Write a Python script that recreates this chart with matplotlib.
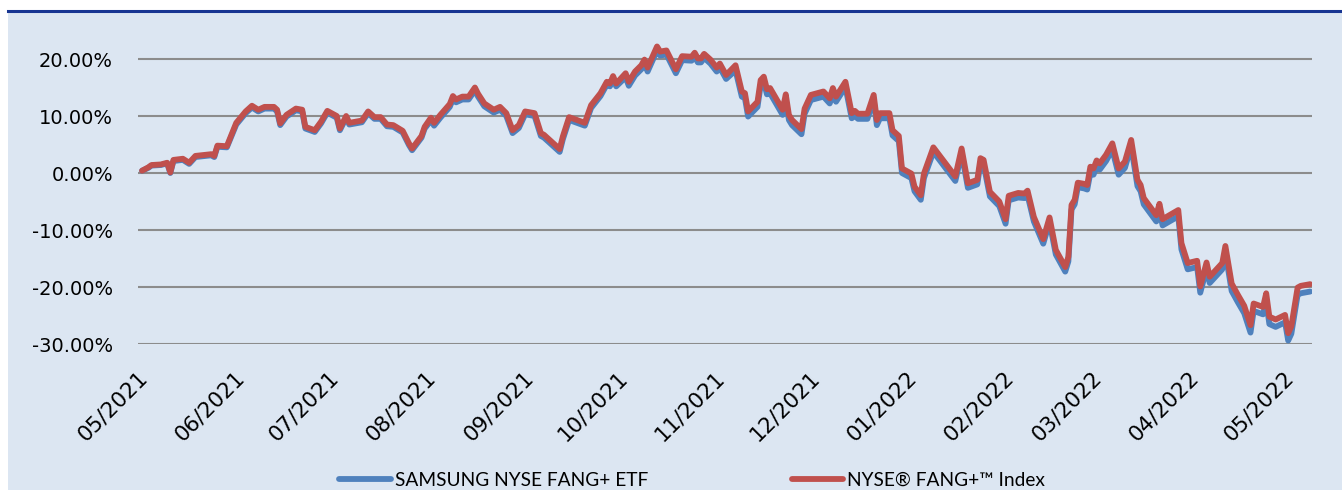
import matplotlib
matplotlib.use("Agg")
import matplotlib.pyplot as plt
import matplotlib.dates as mdates
import matplotlib.transforms as mtransforms
from matplotlib.lines import Line2D
from matplotlib.patches import Rectangle
from matplotlib.ticker import FuncFormatter
import pandas as pd

# cumulative return (%)
dates = [
    "2021-05-01", "2021-05-03", "2021-05-04", "2021-05-07", "2021-05-09", "2021-05-10", "2021-05-11",
    "2021-05-14", "2021-05-16", "2021-05-18", "2021-05-23", "2021-05-24", "2021-05-25", "2021-05-28",
    "2021-05-31", "2021-06-03", "2021-06-05", "2021-06-07", "2021-06-09", "2021-06-12", "2021-06-13",
    "2021-06-14", "2021-06-16", "2021-06-19", "2021-06-21", "2021-06-22", "2021-06-25", "2021-06-27",
    "2021-06-29", "2021-07-02", "2021-07-03", "2021-07-05", "2021-07-06", "2021-07-10", "2021-07-12",
    "2021-07-14", "2021-07-16", "2021-07-18", "2021-07-20", "2021-07-23", "2021-07-25", "2021-07-26",
    "2021-07-29", "2021-07-30", "2021-08-01", "2021-08-02", "2021-08-04", "2021-08-07", "2021-08-08",
    "2021-08-09", "2021-08-11", "2021-08-13", "2021-08-15", "2021-08-16", "2021-08-18", "2021-08-21",
    "2021-08-23", "2021-08-25", "2021-08-27", "2021-08-29", "2021-08-31", "2021-09-03", "2021-09-05",
    "2021-09-06", "2021-09-09", "2021-09-11", "2021-09-12", "2021-09-14", "2021-09-16", "2021-09-19",
    "2021-09-21", "2021-09-24", "2021-09-26", "2021-09-27", "2021-09-28", "2021-09-29", "2021-10-02",
    "2021-10-03", "2021-10-05", "2021-10-07", "2021-10-08", "2021-10-09", "2021-10-12", "2021-10-13",
    "2021-10-15", "2021-10-18", "2021-10-20", "2021-10-23", "2021-10-24", "2021-10-25", "2021-10-26",
    "2021-10-27", "2021-10-29", "2021-10-31", "2021-11-01", "2021-11-03", "2021-11-06", "2021-11-08",
    "2021-11-09", "2021-11-10", "2021-11-13", "2021-11-14", "2021-11-15", "2021-11-16", "2021-11-17",
    "2021-11-21", "2021-11-22", "2021-11-23", "2021-11-24", "2021-11-27", "2021-11-28", "2021-11-30",
    "2021-12-04", "2021-12-06", "2021-12-07", "2021-12-08", "2021-12-11", "2021-12-13", "2021-12-14",
    "2021-12-15", "2021-12-18", "2021-12-20", "2021-12-21", "2021-12-22", "2021-12-25", "2021-12-26",
    "2021-12-28", "2021-12-29", "2022-01-01", "2022-01-02", "2022-01-04", "2022-01-05", "2022-01-08",
    "2022-01-15", "2022-01-17", "2022-01-19", "2022-01-22", "2022-01-23", "2022-01-24", "2022-01-26",
    "2022-01-29", "2022-01-31", "2022-02-01", "2022-02-04", "2022-02-06", "2022-02-07", "2022-02-09",
    "2022-02-12", "2022-02-14", "2022-02-16", "2022-02-19", "2022-02-20", "2022-02-21", "2022-02-22",
    "2022-02-23", "2022-02-25", "2022-02-26", "2022-02-27", "2022-02-28", "2022-03-01", "2022-03-02",
    "2022-03-04", "2022-03-06", "2022-03-08", "2022-03-10", "2022-03-12", "2022-03-14", "2022-03-15",
    "2022-03-16", "2022-03-20", "2022-03-21", "2022-03-22", "2022-03-27", "2022-03-28", "2022-03-30",
    "2022-04-02", "2022-04-03", "2022-04-05", "2022-04-06", "2022-04-10", "2022-04-11", "2022-04-13",
    "2022-04-15", "2022-04-17", "2022-04-19", "2022-04-20", "2022-04-23", "2022-04-24", "2022-04-25",
    "2022-04-27", "2022-04-30", "2022-05-01", "2022-05-02", "2022-05-04", "2022-05-05", "2022-05-08",
]

index_ret = [
    0.4, 1.0, 1.4, 1.5, 1.8, 0.1, 2.3, 2.5, 1.8, 3.0, 3.3, 3.0, 4.8, 4.7, 8.8,
    10.8, 11.8, 11.1, 11.6, 11.6, 11.1, 8.7, 10.2, 11.3, 11.1, 8.1, 7.5, 9.0, 10.9, 10.0,
    7.8, 10.0, 8.8, 9.2, 10.8, 9.8, 9.8, 8.5, 8.4, 7.4, 5.2, 4.3, 6.5, 8.1,
    9.7, 8.8, 10.2, 12.1, 13.5, 12.9, 13.4, 13.4, 15.0, 13.9, 12.2, 11.1, 11.6, 10.5, 7.5, 8.4,
    10.8, 10.5, 7.0, 6.7, 5.2, 4.2, 6.4, 9.8, 9.4, 8.8, 11.9, 14.0, 16.0, 15.7, 17.0, 15.7,
    17.5, 16.0, 17.8, 18.9, 19.9, 18.5, 22.2, 21.3, 21.5, 18.2, 20.5, 20.4, 21.1, 20.1, 20.1,
    20.9, 19.9, 18.5, 19.2, 17.2,
    18.9, 14.3, 14.0, 10.8, 12.5, 16.3, 16.9, 14.7, 14.9, 11.1, 13.8, 10.2, 9.3, 7.7, 11.3,
    13.7, 14.3, 13.1, 14.9, 13.4, 16.0, 10.5, 10.9, 10.4, 10.4, 13.7, 9.3, 10.5, 10.5, 7.5, 6.5,
    0.8, -0.1, -2.4, -3.9, -0.1, 4.5, -0.6, 4.3, -1.8, -1.2, 2.6, 2.3, -3.3, -5.0, -8.1,
    -4.0, -3.5, -3.6, -3.1, -7.7, -11.6, -7.8, -13.5, -16.5, -14.7, -5.6, -4.7, -1.7, -1.9, -2.1,
    1.1, 0.8, 2.2, 1.7, 3.2, 5.2, 0.8, 2.0, 5.8, -1.2, -2.1, -4.4, -7.4, -5.4, -8.1,
    -6.5, -12.3, -15.8, -15.4, -19.9, -15.7, -18.2, -15.8, -12.8,
    -19.4, -21.4, -23.3, -26.7, -22.9, -23.5, -21.1, -25.2, -25.7, -24.9, -28.1, -26.9, -20.1,
    -19.8, -19.5,
]

etf_ret = [
    0.4, 0.9, 1.3, 1.4, 1.7, 0.0, 2.1, 2.3, 1.6, 2.8, 3.1, 2.8, 4.6, 4.5, 8.5,
    10.5, 11.5, 10.8, 11.3, 11.3, 10.8, 8.4, 9.9, 11.0, 10.8, 7.8, 7.2, 8.7, 10.6, 9.7,
    7.5, 9.7, 8.5, 8.9, 10.5, 9.5, 9.5, 8.2, 8.1, 7.1, 4.9, 4.0, 6.2, 7.8,
    9.2, 8.3, 9.7, 11.6, 13.0, 12.4, 12.9, 12.9, 14.5, 13.4, 11.7, 10.6, 11.1, 10.0, 7.0, 7.9,
    10.3, 10.0, 6.5, 6.2, 4.7, 3.7, 5.9, 9.3, 8.9, 8.3, 11.4, 13.5, 15.5, 15.2, 16.5, 15.2,
    16.8, 15.3, 17.1, 18.2, 19.2, 17.8, 21.5, 20.6, 20.8, 17.5, 19.8, 19.7, 20.4, 19.4, 19.4,
    20.2, 19.2, 17.8, 18.5, 16.5,
    18.0, 13.4, 13.1, 9.9, 11.6, 15.4, 16.0, 13.8, 14.0, 10.2, 12.9, 9.3, 8.4, 6.8, 10.4,
    12.8, 13.4, 12.2, 14.0, 12.5, 15.1, 9.6, 10.0, 9.5, 9.5, 12.8, 8.4, 9.6, 9.6, 6.6, 5.6,
    0.0, -0.9, -3.2, -4.7, -0.9, 3.7, -1.4, 3.5, -2.6, -2.0, 1.8, 1.5, -4.1, -5.8, -8.9,
    -4.8, -4.3, -4.4, -3.9, -8.5, -12.4, -8.6, -14.3, -17.3, -15.5, -6.4, -5.5, -2.5, -2.7, -2.9,
    0.0, -0.3, 1.1, 0.6, 2.1, 4.1, -0.3, 0.9, 4.7, -2.3, -3.2, -5.5, -8.5, -6.5, -9.2,
    -7.6, -13.4, -16.9, -16.5, -21.0, -16.8, -19.3, -16.9, -13.9,
    -20.7, -22.7, -24.6, -28.0, -24.2, -24.8, -22.4, -26.5, -27.0, -26.2, -29.4, -28.2, -21.4,
    -21.1, -20.8,
]

series_names = ["SAMSUNG NYSE FANG+ ETF", "NYSE\u00ae FANG+\u2122 Index"]
y_ticks = [-30, -20, -10, 0, 10, 20]

BG = "#DCE6F2"
BLUE = "#4F81BD"
RED = "#C0504D"
W, H = 1342, 490

plt.rcParams["font.family"] = ["DejaVu Sans"]

fig = plt.figure(figsize=(W / 100, H / 100), dpi=100)
fig.patch.set_facecolor("white")
fig.patches.append(Rectangle((8 / W, 0), 1 - 8 / W, 1 - 12 / H, transform=fig.transFigure,
                             facecolor=BG, edgecolor="none", zorder=-10))
fig.lines.append(Line2D([8 / W, 1], [1 - 11.5 / H, 1 - 11.5 / H], transform=fig.transFigure,
                        color="#173592", lw=2.2, zorder=-5))

ax = fig.add_axes([138 / W, 1 - 344 / H, 1174 / W, (344 - 30.5) / H])
ax.set_facecolor("none")

x = pd.to_datetime(dates)
ax.plot(x, etf_ret, color=BLUE, lw=4.2, solid_capstyle="round", solid_joinstyle="round",
        label=series_names[0], zorder=3)
ax.plot(x, index_ret, color=RED, lw=4.2, solid_capstyle="round", solid_joinstyle="round",
        label=series_names[1], zorder=4)

ax.set_ylim(-30, 25)
ax.set_yticks(y_ticks)
ax.yaxis.set_major_formatter(FuncFormatter(lambda v, p: f"{v:.2f}%"))
ax.set_xlim(pd.Timestamp("2021-04-29 17:00"), pd.Timestamp("2022-05-08 14:00"))
ax.xaxis.set_major_locator(mdates.MonthLocator())
ax.xaxis.set_major_formatter(mdates.DateFormatter("%m/%Y"))

ax.grid(axis="y", color="#8C8C8C", lw=1.5)
ax.set_axisbelow(True)
for s in ax.spines.values():
    s.set_visible(False)
ax.tick_params(axis="y", length=0, labelsize=14, pad=18, colors="black")
ax.tick_params(axis="x", length=0, labelsize=15.5, pad=17, colors="black")
shift = mtransforms.ScaledTranslation(-5 / 100, 0, fig.dpi_scale_trans)
for lbl in ax.get_xticklabels():
    lbl.set_rotation(45)
    lbl.set_ha("right")
    lbl.set_va("top")
    lbl.set_rotation_mode("anchor")
    lbl.set_transform(lbl.get_transform() + shift)

handles, labels = ax.get_legend_handles_labels()
fig.legend(handles, labels, loc="center", bbox_to_anchor=(0.5157, 10 / H), ncol=2,
           frameon=False, prop={"family": "Lato", "size": 13.8}, handlelength=2.7,
           handletextpad=0.2, columnspacing=7.5)

fig.savefig("out.png", dpi=100, facecolor=fig.get_facecolor())
